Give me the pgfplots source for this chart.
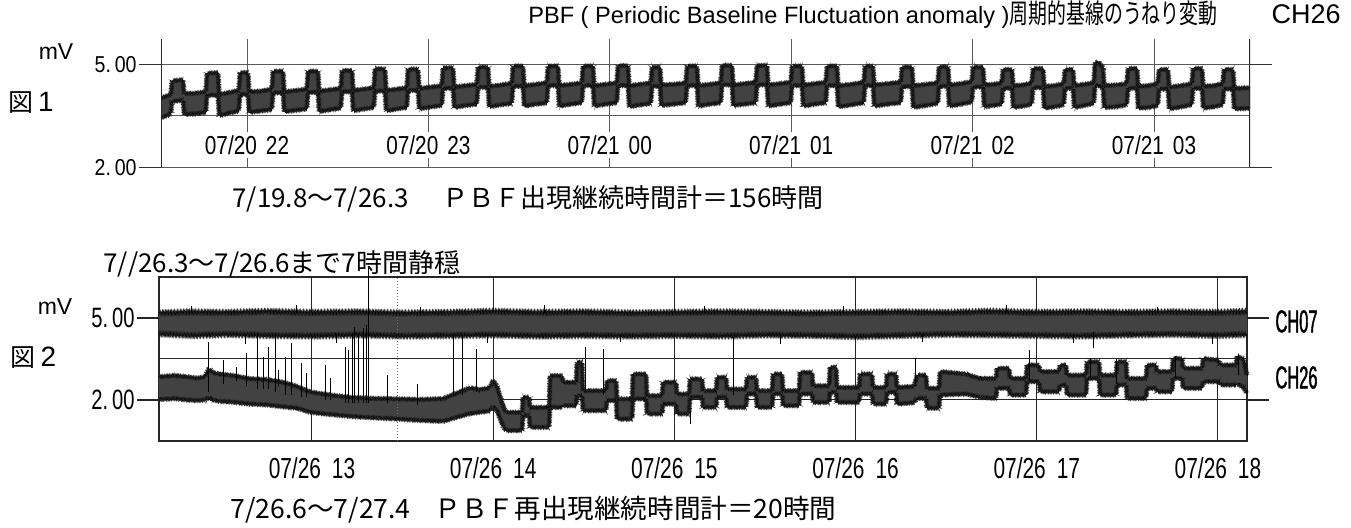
\documentclass[border=0pt]{standalone}
\usepackage{fontspec}
\setmainfont{Liberation Sans}
\newfontfamily\jp{Noto Sans CJK JP}
\newfontfamily\jpc[FakeStretch=0.7]{Noto Sans CJK JP}
\newfontfamily\condA[FakeStretch=0.8]{Liberation Sans}
\newfontfamily\condY[FakeStretch=0.85]{Liberation Sans}
\newfontfamily\condB[FakeStretch=0.72]{Liberation Sans}
\newfontfamily\condC[FakeStretch=0.52,FakeBold=1.2]{Liberation Sans}
\usepackage{pgfplots}
\usepackage{pgfplotstable}
\pgfplotsset{compat=1.18}
\usepgfplotslibrary{fillbetween}
\usetikzlibrary{decorations.pathmorphing}

% ---------- Fig.1 : CH26, t = minutes after 07/20 21:00
\pgfplotstableread{
t U L
31.55 4.02 3.45
33.5 4.08 3.50
34.8 4.12 3.56
35.19 4.52 3.92
38.83 4.55 3.95
39.23 4.15 3.54
43.0 4.16 3.56
46.37 4.20 3.60
46.77 4.74 4.10
50.41 4.76 4.10
50.81 4.12 3.50
54.0 4.18 3.58
57.28 4.24 3.64
57.68 4.76 4.12
60.33 4.76 4.12
60.73 4.20 3.60
64.5 4.22 3.64
68.20 4.28 3.68
68.60 4.80 4.17
71.91 4.80 4.17
72.31 4.20 3.62
76.2 4.24 3.66
79.78 4.28 3.70
80.18 4.80 4.18
83.48 4.80 4.18
83.88 4.22 3.62
87.6 4.26 3.68
91.02 4.30 3.72
91.42 4.82 4.20
94.73 4.82 4.20
95.13 4.24 3.64
98.7 4.28 3.70
101.94 4.32 3.74
102.34 4.88 4.22
105.64 4.86 4.22
106.04 4.24 3.64
109.6 4.28 3.70
112.85 4.32 3.74
113.25 4.86 4.24
116.56 4.86 4.24
116.96 4.30 3.70
120.9 4.34 3.76
124.43 4.38 3.80
124.83 4.90 4.30
128.14 4.90 4.30
128.54 4.34 3.74
132.3 4.38 3.80
136.01 4.42 3.84
136.41 4.92 4.33
139.71 4.92 4.33
140.11 4.36 3.76
144.0 4.40 3.82
147.58 4.45 3.86
147.98 4.95 4.36
151.29 4.95 4.36
151.69 4.38 3.78
155.6 4.42 3.84
159.16 4.46 3.87
159.56 4.95 4.38
162.87 4.95 4.38
163.27 4.38 3.78
167.2 4.42 3.84
170.74 4.46 3.88
171.14 4.95 4.38
174.44 4.95 4.38
174.84 4.38 3.78
178.8 4.42 3.84
182.31 4.46 3.88
182.71 4.96 4.38
186.02 4.96 4.38
186.42 4.38 3.76
190.2 4.42 3.82
193.56 4.46 3.86
193.96 4.92 4.36
196.60 4.92 4.36
197.00 4.40 3.80
201.3 4.42 3.84
205.13 4.46 3.88
205.53 4.95 4.38
208.84 4.95 4.38
209.24 4.38 3.78
213.2 4.42 3.84
216.71 4.46 3.88
217.11 4.97 4.40
220.42 4.97 4.40
220.82 4.40 3.80
224.8 4.44 3.84
228.29 4.48 3.88
228.69 4.97 4.40
232.00 4.97 4.40
232.40 4.40 3.78
236.4 4.44 3.84
239.86 4.48 3.88
240.26 4.95 4.38
243.57 4.95 4.38
243.97 4.40 3.78
247.9 4.44 3.84
251.44 4.48 3.88
251.84 4.95 4.38
255.15 4.95 4.38
255.55 4.38 3.76
260.0 4.42 3.82
264.01 4.48 3.88
264.41 4.95 4.38
267.06 4.95 4.38
267.46 4.40 3.78
272.0 4.44 3.84
276.25 4.48 3.88
276.65 4.92 4.35
279.96 4.92 4.35
280.36 4.38 3.74
284.6 4.42 3.80
288.49 4.46 3.86
288.89 4.93 4.36
291.86 4.93 4.36
292.26 4.40 3.78
296.2 4.44 3.84
299.73 4.50 3.90
300.13 4.92 4.34
303.44 4.92 4.34
303.84 4.40 3.76
306.9 4.42 3.80
309.65 4.46 3.84
310.05 4.85 4.30
313.03 4.85 4.30
313.43 4.38 3.74
316.7 4.40 3.78
319.58 4.46 3.84
319.98 4.88 4.32
323.29 4.88 4.32
323.69 4.36 3.72
327.1 4.38 3.76
330.16 4.44 3.82
330.56 4.85 4.30
333.21 4.85 4.30
333.61 4.38 3.74
337.0 4.42 3.80
340.08 4.46 3.86
340.48 5.05 4.35
341.5 5.08 4.40
343.13 4.90 4.30
343.53 4.38 3.74
347.5 4.40 3.76
351.00 4.44 3.82
351.40 4.88 4.30
354.38 4.88 4.30
354.78 4.36 3.72
358.2 4.38 3.74
361.25 4.44 3.80
361.65 4.85 4.28
364.63 4.85 4.28
365.03 4.34 3.70
369.0 4.38 3.76
372.50 4.44 3.82
372.90 4.88 4.30
375.88 4.88 4.30
376.28 4.36 3.72
379.7 4.38 3.76
382.75 4.44 3.82
383.15 4.85 4.28
386.13 4.85 4.28
386.53 4.30 3.70
391.75 4.32 3.72
}\topd

% ---------- Fig.2 : t = minutes after 07/26 12:00
\pgfplotstableread{
t U L
9.34 5.18 4.42
20 5.22 4.36
32 5.20 4.40
45 5.24 4.36
60 5.20 4.34
75 5.22 4.38
90 5.18 4.34
105 5.20 4.36
120 5.24 4.38
135 5.20 4.34
150 5.22 4.36
165 5.18 4.34
180 5.20 4.36
195 5.22 4.34
210 5.20 4.38
225 5.18 4.36
240 5.20 4.32
255 5.22 4.36
270 5.20 4.40
285 5.24 4.38
300 5.20 4.36
315 5.22 4.34
330 5.20 4.38
345 5.22 4.40
360 5.20 4.36
369.61 5.24 4.40
}\chA

\pgfplotstableread{
t U L
9.34 2.85 2.02
14.63 2.90 2.05
18.61 2.85 2.00
21.92 2.80 1.98
24.57 2.85 2.00
25.89 3.15 2.10
27.22 3.00 2.00
29.54 2.95 1.95
33.84 2.90 1.92
39.47 2.78 1.85
45.10 2.75 1.82
50.40 2.65 1.75
55.00 2.50 1.70
59.34 2.30 1.55
65.00 2.20 1.48
72.58 2.10 1.40
80.00 2.06 1.35
89.14 2.04 1.30
96.00 2.02 1.25
103.38 2.05 1.22
109.01 2.30 1.40
112.32 2.45 1.50
115.63 2.38 1.55
118.94 2.45 1.60
119.93 2.72 1.76
121.26 2.50 1.60
123.25 1.80 1.05
124.21 1.55 0.88
129.57 1.55 0.88
129.87 2.10 1.43
131.89 2.10 1.43
132.19 1.73 1.00
138.51 1.73 1.00
138.81 2.89 1.73
142.81 2.89 1.73
143.11 2.65 1.79
147.45 2.65 1.79
147.75 3.38 2.16
149.44 3.38 2.16
149.74 2.34 1.61
157.38 2.34 1.61
157.68 2.71 1.98
160.70 2.71 1.98
161.00 2.04 1.30
165.99 2.04 1.30
166.29 2.95 2.04
170.63 2.95 2.04
170.93 2.16 1.49
175.93 2.16 1.49
176.23 2.65 1.85
180.56 2.65 1.85
180.86 2.22 1.49
184.87 2.22 1.49
185.17 2.77 2.10
189.17 2.77 2.10
189.47 2.34 1.73
193.81 2.34 1.73
194.11 2.83 2.10
197.12 2.83 2.10
197.42 2.40 1.73
203.74 2.40 1.73
204.04 2.83 2.22
207.05 2.83 2.22
207.35 2.34 1.73
212.35 2.34 1.73
212.65 2.95 2.22
215.66 2.95 2.22
215.96 2.34 1.79
221.29 2.34 1.79
221.59 3.01 2.22
225.60 3.01 2.22
225.90 2.52 1.91
231.23 2.52 1.91
231.53 3.20 2.28
233.54 3.20 2.28
233.84 2.46 1.91
241.16 2.46 1.91
241.46 2.95 2.22
245.46 2.95 2.22
245.76 2.46 1.85
250.10 2.46 1.85
250.40 2.95 2.28
253.41 2.95 2.28
253.71 2.46 1.85
259.37 2.50 1.90
260.33 2.91 2.06
263.34 2.91 2.06
263.64 2.43 1.70
267.65 2.43 1.70
267.95 3.04 2.18
276.59 2.95 2.22
281.20 2.79 2.10
286.52 2.79 2.06
286.82 3.16 2.43
290.83 3.16 2.43
291.13 2.79 2.18
296.46 2.79 2.18
296.76 3.28 2.67
300.76 3.28 2.67
301.06 3.04 2.30
307.39 3.04 2.30
307.69 3.28 2.55
309.70 3.28 2.55
310.00 2.91 2.18
316.33 2.91 2.18
316.63 3.40 2.79
320.63 3.40 2.79
320.93 2.91 2.18
326.26 2.91 2.18
326.56 3.40 2.55
329.57 3.40 2.55
329.87 2.79 2.06
336.19 2.79 2.06
336.49 3.28 2.43
339.50 3.28 2.43
339.80 3.04 2.30
344.80 3.04 2.30
345.10 3.52 2.79
348.11 3.52 2.79
348.41 3.16 2.43
354.74 3.16 2.43
355.04 3.52 2.67
360.37 3.45 2.67
360.67 3.28 2.55
366.00 3.28 2.55
366.30 3.60 2.60
368.5 3.50 2.45
369.61 2.90 2.25
}\chB

\pgfplotstableread{
t v
25.66 2.3
25.66 4.13
25.66 nan
30.63 2.6
30.63 3.46
30.63 nan
35.0 2.7
35.0 3.2
35.0 nan
38.37 2.5
38.37 3.71
38.37 nan
41.90 2.4
41.90 4.44
41.90 nan
43.88 2.4
43.88 3.59
43.88 nan
45.53 2.4
45.53 3.95
45.53 nan
47.75 2.3
47.75 4.40
47.75 nan
48.8 2.5
48.8 3.1
48.8 nan
51.06 2.2
51.06 3.59
51.06 nan
53.28 2.2
53.28 4.07
53.28 nan
56.59 2.1
56.59 3.34
56.59 nan
58.0 2.1
58.0 3.0
58.0 nan
64.30 2.0
64.30 3.28
64.30 nan
66.0 2.0
66.0 2.8
66.0 nan
70.93 1.9
70.93 3.95
70.93 nan
72.02 1.9
72.02 3.83
72.02 nan
73.47 1.9
73.47 4.40
73.47 nan
74.00 1.9
74.00 4.68
74.00 nan
75.33 1.9
75.33 4.40
75.33 nan
76.99 1.9
76.99 4.62
76.99 nan
78.10 1.9
78.10 4.74
78.10 nan
78.65 1.9
78.65 6.85
78.65 nan
85.0 1.9
85.0 2.9
85.0 nan
95.0 1.8
95.0 2.6
95.0 nan
106.79 2.2
106.79 4.37
106.79 nan
109.77 2.2
109.77 4.37
109.77 nan
114.54 2.3
114.54 3.87
114.54 nan
150.40 2.3
150.40 3.93
150.40 nan
156.46 2.2
156.46 3.87
156.46 nan
185.17 1.6
185.17 1.12
185.17 nan
199.50 2.2
199.50 4.30
199.50 nan
259.67 2.5
259.67 3.52
259.67 nan
297.52 2.7
297.52 3.83
297.52 nan
317.62 2.8
317.62 3.52
317.62 nan
318.72 4.5
318.72 3.89
318.72 nan
326.45 2.6
326.45 3.50
326.45 nan
345.77 2.8
345.77 3.60
345.77 nan
366.73 2.9
366.73 3.70
366.73 nan
20.0 5.2
20.0 5.45
20.0 nan
38.0 4.4
38.0 4.05
38.0 nan
55.0 5.2
55.0 5.48
55.0 nan
68.0 4.4
68.0 4.10
68.0 nan
96.0 5.2
96.0 5.42
96.0 nan
118.0 4.4
118.0 4.08
118.0 nan
137.0 5.2
137.0 5.46
137.0 nan
162.0 4.4
162.0 4.12
162.0 nan
190.0 5.2
190.0 5.44
190.0 nan
215.0 4.4
215.0 4.05
215.0 nan
236.0 5.2
236.0 5.43
236.0 nan
262.0 4.4
262.0 4.12
262.0 nan
290.0 5.2
290.0 5.47
290.0 nan
312.0 4.4
312.0 4.10
312.0 nan
340.0 5.2
340.0 5.42
340.0 nan
358.0 4.4
358.0 4.06
358.0 nan
}\spk

\pgfplotsset{
  band/.style={black!74},
  edge1/.style={black, line width=0.35pt, decorate,
    decoration={zigzag, segment length=0.6pt, amplitude=0.6pt}},
  edge2/.style={black!85, line width=0.3pt, decorate,
    decoration={zigzag, segment length=1.3pt, amplitude=1.0pt}},
  edge3/.style={black, line width=0.35pt, decorate,
    decoration={zigzag, segment length=0.7pt, amplitude=0.9pt}},
  edge4/.style={black!85, line width=0.3pt, decorate,
    decoration={zigzag, segment length=1.5pt, amplitude=1.5pt}},
}

\begin{document}
\begin{tikzpicture}

% ================= Fig. 1 =================
\begin{axis}[
  at={(80.5pt,180.35pt)}, anchor=south west,
  scale only axis, width=544.5pt, height=64.35pt,
  xmin=31.55, xmax=391.75, ymin=2, ymax=5.75,
  axis line style={draw=none},
  xtick={60,120,180,240,300,360},
  xticklabels={{07/20\hspace{4.5pt}22},{07/20\hspace{4.5pt}23},{07/21\hspace{4.5pt}00},
               {07/21\hspace{4.5pt}01},{07/21\hspace{4.5pt}02},{07/21\hspace{4.5pt}03}},
  xtick align=inside, ytick align=outside,
  xtick style={draw=none},
  xticklabel style={font=\condA\fontsize{13pt}{14pt}\selectfont,
     anchor=center, yshift=11.15pt, fill=white, inner sep=1.5pt},
  ytick={2,5}, yticklabels={{2.\,00},{5.\,00}},
  yticklabel style={font=\condY\fontsize{11.5pt}{13pt}\selectfont, inner sep=1pt},
  ytick style={black!80, line width=0.5pt},
  major tick length=11pt,
  extra y ticks={3.5}, extra y tick labels={},
  extra y tick style={grid=major, tick style={draw=none}},
  xmajorgrids, ymajorgrids,
  grid style={black!65, line width=0.5pt},
]
\addplot[draw=none, name path=tU] table[x=t,y=U]{\topd};
\addplot[draw=none, name path=tL] table[x=t,y=L]{\topd};
\addplot[band] fill between[of=tU and tL];
\addplot[edge1] table[x=t,y=U]{\topd};
\addplot[edge2] table[x=t,y=U]{\topd};
\addplot[edge1] table[x=t,y=L]{\topd};
\addplot[edge2] table[x=t,y=L]{\topd};
\draw[black!85, line width=0.6pt] (rel axis cs:0,0) -- (rel axis cs:0,1);
\draw[black!85, line width=0.6pt] (rel axis cs:1,0) -- (rel axis cs:1,1);
\end{axis}

% ================= Fig. 2 =================
\begin{axis}[
  at={(79.5pt,43.5pt)}, anchor=south west,
  scale only axis, width=544pt, height=82pt,
  xmin=9.34, xmax=369.61, ymin=0.5, ymax=6.5,
  axis line style={black!85, line width=0.6pt},
  xtick={60,120,180,240,300,360},
  xticklabels={{07/26\hspace{5.5pt}13},{07/26\hspace{5.5pt}14},{07/26\hspace{5.5pt}15},
               {07/26\hspace{5.5pt}16},{07/26\hspace{5.5pt}17},{07/26\hspace{5.5pt}18}},
  xtick align=inside, ytick align=outside,
  xtick style={draw=none},
  xticklabel style={font=\condB\fontsize{14.5pt}{15pt}\selectfont,
     anchor=center, yshift=-13.5pt, inner sep=1pt},
  ytick={2,5}, yticklabels={{2.\hspace{2pt}00},{5.\hspace{2pt}00}},
  yticklabel style={font=\condB\fontsize{14pt}{15pt}\selectfont, inner sep=1pt},
  ytick style={black!85, line width=0.6pt},
  major tick length=11pt,
  extra y ticks={3.5}, extra y tick labels={},
  extra y tick style={grid=major, tick style={draw=none}},
  xmajorgrids, ymajorgrids,
  grid style={black!85, line width=0.5pt},
  clip=false,
]
\draw[black!55, densely dotted, line width=0.5pt] (axis cs:88.15,0.5) -- (axis cs:88.15,6.5);
\addplot[draw=none, name path=aU] table[x=t,y=U]{\chA};
\addplot[draw=none, name path=aL] table[x=t,y=L]{\chA};
\addplot[band] fill between[of=aU and aL];
\addplot[edge3] table[x=t,y=U]{\chA};
\addplot[edge4] table[x=t,y=U]{\chA};
\addplot[edge3] table[x=t,y=L]{\chA};
\addplot[edge4] table[x=t,y=L]{\chA};
\addplot[draw=none, name path=bU] table[x=t,y=U]{\chB};
\addplot[draw=none, name path=bL] table[x=t,y=L]{\chB};
\addplot[band] fill between[of=bU and bL];
\addplot[edge1] table[x=t,y=U]{\chB};
\addplot[edge2] table[x=t,y=U]{\chB};
\addplot[edge1] table[x=t,y=L]{\chB};
\addplot[edge2] table[x=t,y=L]{\chB};
\addplot[black, line width=0.4pt, unbounded coords=jump] table[x=t,y=v]{\spk};
\end{axis}

% ================= texts =================
\node[anchor=east, inner sep=0] at (670.5pt,256.5pt)
  {\fontsize{11.8pt}{14pt}\selectfont PBF ( Periodic Baseline Fluctuation anomaly )%
   {\jpc\fontsize{13.5pt}{14pt}\selectfont 周期的基線のうねり変動}\hspace{27pt}%
   {\fontsize{13.5pt}{14pt}\selectfont CH26}};
\node[inner sep=0, font=\fontsize{11.5pt}{12pt}\selectfont] at (28pt,238.25pt) {mV};
\node[inner sep=0, font=\fontsize{11.5pt}{12pt}\selectfont] at (27.5pt,110.5pt) {mV};
\node[inner sep=0] at (15.5pt,212.5pt)
  {{\jp\fontsize{12.5pt}{14pt}\selectfont 図}\hspace{2.5pt}{\fontsize{14pt}{14pt}\selectfont 1}};
\node[inner sep=0] at (16.75pt,85pt)
  {{\jp\fontsize{12.5pt}{14pt}\selectfont 図}\hspace{2.5pt}{\fontsize{14pt}{14pt}\selectfont 2}};
\node[anchor=west, inner sep=0, font=\jp\fontsize{13pt}{15pt}\selectfont] at (116pt,164.5pt)
  {7/19.8～7/26.3\hspace{1.3em}ＰＢＦ出現継続時間計＝156時間};
\node[anchor=west, inner sep=0, font=\jp\fontsize{13pt}{15pt}\selectfont] at (51.5pt,132pt)
  {7//26.3～7/26.6まで7時間静穏};
\node[anchor=west, inner sep=0, font=\jp\fontsize{13.3pt}{15pt}\selectfont] at (115pt,9pt)
  {7/26.6～7/27.4\hspace{0.9em}ＰＢＦ再出現継続時間計＝20時間};
\node[inner sep=0, font=\condC\fontsize{15.8pt}{16pt}\selectfont] at (648.25pt,103.25pt) {CH07};
\node[inner sep=0, font=\condC\fontsize{15.8pt}{16pt}\selectfont] at (648.25pt,75.25pt) {CH26};

\pgfresetboundingbox
\path[use as bounding box] (0,0) rectangle (675.5pt,264pt);
\end{tikzpicture}
\end{document}
